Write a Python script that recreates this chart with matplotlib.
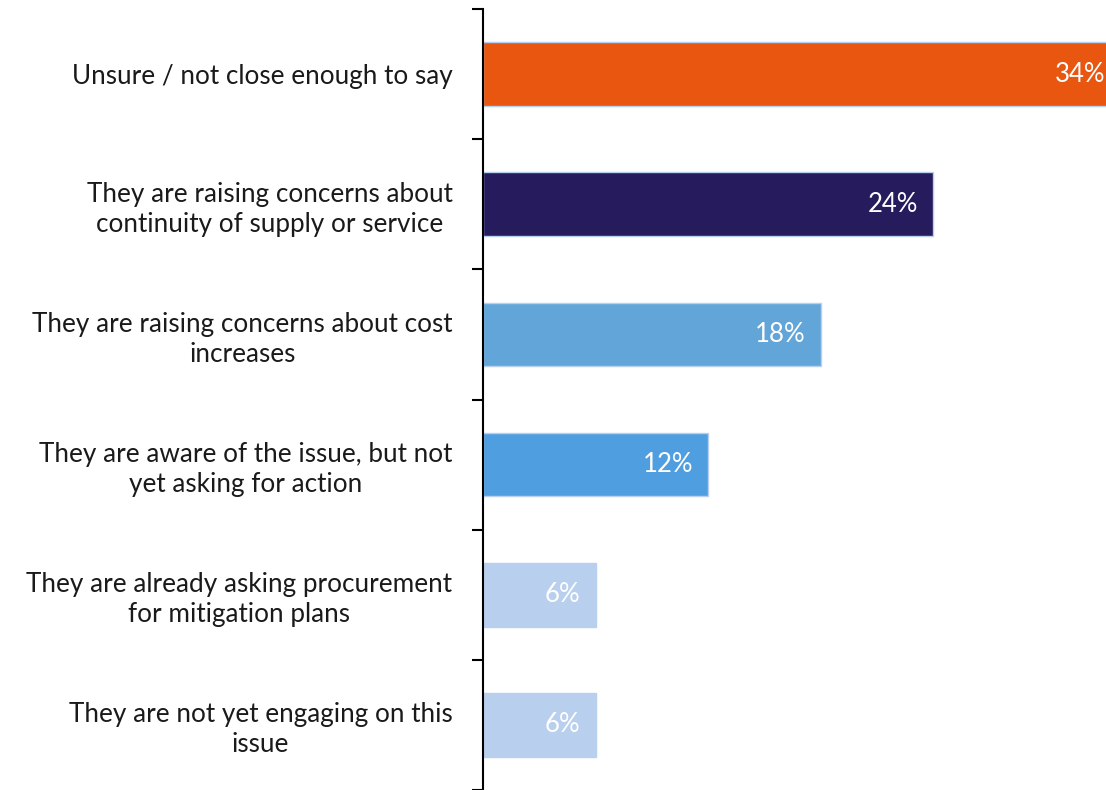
import numpy as np
import matplotlib.pyplot as plt

plt.rcParams['font.family'] = ['Lato', 'DejaVu Sans']

labels = [
    "Unsure / not close enough to say",
    "They are raising concerns about\ncontinuity of supply or service",
    "They are raising concerns about cost\nincreases",
    "They are aware of the issue, but not\nyet asking for action",
    "They are already asking procurement\nfor mitigation plans",
    "They are not yet engaging on this\nissue",
]
values = [34, 24, 18, 12, 6, 6]
colors = ['#E8560F', '#251B5D', '#62A5D9', '#4F9FE0', '#B8CFEE', '#B8CFEE']

fig = plt.figure(figsize=(11.06, 7.9), dpi=100)
ax = fig.add_axes([483 / 1106, 0, 623 / 1106, 781 / 790])

y = np.arange(len(values))
ax.barh(y, values, height=0.49, color=colors, edgecolor='#B8CFEE', linewidth=1)

for yi, v in zip(y, values):
    ax.text(v - 0.8, yi, f"{v}%", ha='right', va='center', color='white', fontsize=18.5)

ax.set_xlim(0, 623 / 18.75)
ax.set_ylim(len(values) - 0.5, -0.5)

# boundary ticks between categories, labels sit on minor ticks at the centres
ax.set_yticks(np.arange(-0.5, len(values), 1.0))
ax.set_yticklabels([])
ax.set_yticks(y, minor=True)
ax.set_yticklabels(labels, minor=True, fontsize=18.8, color='#1a1a1a',
                   multialignment='center', linespacing=1.25)
ax.tick_params(axis='y', which='major', length=8, width=1.5, direction='out')
ax.tick_params(axis='y', which='minor', length=0, pad=22)
ax.set_xticks([])

for side in ['top', 'right', 'bottom']:
    ax.spines[side].set_visible(False)
ax.spines['left'].set_linewidth(1.5)

fig.savefig('out.png', dpi=100)
